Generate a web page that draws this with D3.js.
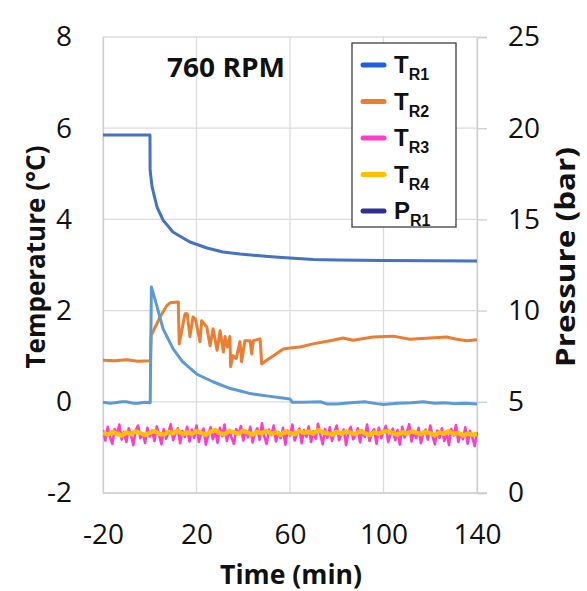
<!DOCTYPE html>
<html><head><meta charset="utf-8">
<script src="https://cdn.jsdelivr.net/npm/d3@7"></script>
<style>html,body{margin:0;padding:0;background:#fff}svg{display:block}</style>
</head><body>
<svg id="c" width="587" height="591"></svg>
<script>
// ---- data ----
const timeTicks = [-20, 20, 60, 100, 140];
const tempTicks = [-2, 0, 2, 4, 6, 8];
const presTicks = [0, 5, 10, 15, 20, 25];
const chartLabel = "760 RPM";
const seriesNames = ["T", "T", "T", "T", "P"];
const seriesSubs = ["R1", "R2", "R3", "R4", "R1"];

// pressure P_R1 (bar) : [time, value]
const pR1 = [[-20,19.63],[0.1,19.63],[0.15,17.7],[1,16.78],[3.1,15.68],[5.7,14.96],[9.9,14.31],[17.2,13.76],[24.5,13.43],[31.3,13.21],[38.6,13.1],[45.9,13.02],[52,12.95],[60,12.88],[70,12.8],[80,12.77],[100,12.75],[120,12.73],[140,12.72]];
// T_R1 (°C)
const tR1 = [[-20,-0.01],[-17,-0.03],[-15,-0.02],[-12,0.0],[-10,0.0],[-7,-0.03],[-5,-0.03],[-2,-0.01],[0,-0.02],[0.2,-0.02],[0.7,2.52],[3,2.11],[5.7,1.6],[10,1.16],[14,0.88],[20,0.61],[27,0.44],[34.5,0.29],[40,0.22],[43,0.18],[50,0.13],[56,0.09],[60,0.06],[61,-0.01],[66,-0.01],[73,0.0],[76,-0.05],[80,-0.05],[86,-0.02],[92,0.0],[97,-0.04],[100,-0.06],[106,-0.03],[112,-0.02],[117,0.0],[122,-0.03],[126,-0.02],[130,-0.04],[135,-0.03],[140,-0.05]];
// T_R2 (°C)
const tR2 = [[-20,0.91],[-15,0.90],[-10,0.92],[-5,0.89],[0,0.90],[0.3,0.91],[0.6,1.45],[4.4,1.86],[7.3,2.11],[8.7,2.17],[12.2,2.19],[12.6,1.27],[15.1,1.93],[16,1.93],[17.2,1.43],[18.5,1.86],[19.5,1.82],[21.5,1.32],[22.2,1.78],[24.4,1.64],[25.8,1.23],[27.1,1.6],[28.8,1.13],[30.1,1.56],[31.5,1.09],[32.2,1.43],[33.2,1.2],[34.3,1.43],[34.6,0.77],[35.6,1.01],[37,0.95],[38.6,1.32],[39.3,0.88],[40.7,1.34],[42.9,1.34],[43.6,1.05],[44.3,1.34],[47.2,1.38],[47.9,0.83],[50,0.91],[52.9,1.01],[57.1,1.16],[60,1.18],[64.3,1.2],[69.8,1.27],[77.1,1.34],[82.7,1.4],[87,1.35],[95.5,1.42],[104.1,1.44],[111.3,1.37],[119.9,1.4],[127,1.42],[131.3,1.37],[135.6,1.34],[140,1.36]];
// T_R3 (°C), one value per minute from -20 to 140
const tR3 = [-0.62,-0.85,-0.55,-0.78,-0.92,-0.60,-0.71,-0.50,-0.83,-0.66,
-0.88,-0.58,-0.74,-0.95,-0.62,-0.52,-0.80,-0.69,-0.90,-0.57,
-0.76,-0.63,-0.86,-0.54,-0.72,-0.93,-0.60,-0.81,-0.67,-0.49,
-0.84,-0.70,-0.58,-0.91,-0.64,-0.77,-0.55,-0.87,-0.61,-0.79,
-0.52,-0.88,-0.68,-0.59,-0.94,-0.73,-0.56,-0.82,-0.65,-0.90,
-0.57,-0.75,-0.50,-0.86,-0.62,-0.79,-0.92,-0.60,-0.71,-0.53,
-0.85,-0.64,-0.78,-0.55,-0.89,-0.68,-0.58,-0.83,-0.47,-0.76,
-0.92,-0.61,-0.73,-0.52,-0.87,-0.66,-0.80,-0.57,-0.94,-0.63,
-0.74,-0.50,-0.85,-0.69,-0.59,-0.91,-0.62,-0.77,-0.54,-0.88,
-0.65,-0.81,-0.48,-0.73,-0.93,-0.60,-0.79,-0.56,-0.86,-0.67,
-0.52,-0.84,-0.71,-0.61,-0.95,-0.66,-0.55,-0.82,-0.74,-0.58,
-0.89,-0.63,-0.77,-0.50,-0.86,-0.69,-0.60,-0.92,-0.57,-0.80,
-0.66,-0.53,-0.88,-0.72,-0.59,-0.84,-0.62,-0.94,-0.55,-0.78,
-0.68,-0.49,-0.87,-0.64,-0.80,-0.57,-0.91,-0.70,-0.61,-0.83,
-0.52,-0.76,-0.93,-0.63,-0.79,-0.58,-0.86,-0.67,-0.95,-0.60,
-0.74,-0.51,-0.88,-0.69,-0.82,-0.56,-0.92,-0.64,-0.78,-0.97,-0.66];
const tR3Start = -20, tR3Step = 1;
// T_R4 (°C), one value every 2 minutes from -20 to 140
const tR4 = [-0.68,-0.72,-0.66,-0.70,-0.74,-0.67,-0.71,-0.65,-0.69,-0.73,
-0.68,-0.64,-0.70,-0.72,-0.66,-0.69,-0.63,-0.71,-0.67,-0.70,
-0.65,-0.68,-0.72,-0.66,-0.62,-0.69,-0.71,-0.64,-0.67,-0.70,
-0.63,-0.68,-0.72,-0.66,-0.69,-0.64,-0.70,-0.67,-0.73,-0.65,
-0.69,-0.71,-0.64,-0.68,-0.66,-0.70,-0.62,-0.67,-0.69,-0.72,
-0.66,-0.70,-0.65,-0.68,-0.71,-0.64,-0.69,-0.73,-0.67,-0.70,
-0.66,-0.64,-0.69,-0.72,-0.67,-0.70,-0.65,-0.68,-0.71,-0.66,
-0.69,-0.73,-0.67,-0.70,-0.64,-0.71,-0.68,-0.74,-0.70,-0.72,-0.71];
const tR4Start = -20, tR4Step = 2;

// ---- layout ----
const svg = d3.select("#c");
const L = 103, R = 477, T = 37, B = 493;
const x = d3.scaleLinear().domain([-20, 140]).range([L, R]);
const yT = d3.scaleLinear().domain([-2, 8]).range([B, T]);
const yP = d3.scaleLinear().domain([0, 25]).range([B, T]);
const tickFont = "'Open Sans', 'Noto Sans', sans-serif";
const fmt = d => String(d);

svg.append("rect").attr("width", 587).attr("height", 591).attr("fill", "#fff");

// grid
const g = svg.append("g");
g.selectAll("line.h").data(tempTicks).join("line")
  .attr("x1", L).attr("x2", R).attr("y1", d => yT(d)).attr("y2", d => yT(d))
  .attr("stroke", "#dcdcdc").attr("stroke-width", 1.3);
g.selectAll("line.v").data(timeTicks).join("line")
  .attr("x1", d => x(d)).attr("x2", d => x(d)).attr("y1", T).attr("y2", B)
  .attr("stroke", "#dcdcdc").attr("stroke-width", 1.3);

// axes
const axL = svg.append("g").attr("transform", `translate(${L},0)`)
  .call(d3.axisLeft(yT).tickValues(tempTicks).tickSize(0).tickPadding(31).tickFormat(fmt));
const axR = svg.append("g").attr("transform", `translate(${R},0)`)
  .call(d3.axisRight(yP).tickValues(presTicks).tickSize(10).tickPadding(21).tickFormat(fmt));
const axB = svg.append("g").attr("transform", `translate(0,${B})`)
  .call(d3.axisBottom(x).tickValues(timeTicks).tickSize(0).tickPadding(31).tickFormat(fmt));
[axL, axR, axB].forEach(a => {
  a.select(".domain").attr("stroke", "#cfcfcf").attr("stroke-width", 1.3);
  a.selectAll(".tick line").attr("stroke", "#cfcfcf").attr("stroke-width", 1.3);
  a.selectAll("text").attr("font-family", tickFont).attr("font-size", 28).attr("fill", "#111");
});
axB.select(".domain").attr("d", `M${L},0H${R + 10}`);

// clip
svg.append("clipPath").attr("id", "clip").append("rect")
  .attr("x", L).attr("y", T - 5).attr("width", R - L + 1).attr("height", B - T + 5);
const plot = svg.append("g").attr("clip-path", "url(#clip)");

const lineT = d3.line().x(d => x(d[0])).y(d => yT(d[1]));
const lineP = d3.line().x(d => x(d[0])).y(d => yP(d[1]));
const r3 = tR3.map((v, i) => [tR3Start + i * tR3Step, v]);
const r4 = tR4.map((v, i) => [tR4Start + i * tR4Step, v]);

plot.append("path").datum(r3).attr("d", lineT).attr("fill", "none")
  .attr("stroke", "#ff3ccb").attr("stroke-width", 2.6).attr("stroke-linejoin", "round");
plot.append("path").datum(r4).attr("d", lineT).attr("fill", "none")
  .attr("stroke", "#ffbf00").attr("stroke-width", 4.5).attr("stroke-linejoin", "round");
plot.append("path").datum(tR2).attr("d", lineT).attr("fill", "none")
  .attr("stroke", "#ed7d31").attr("stroke-width", 3).attr("stroke-linejoin", "round");
plot.append("path").datum(tR1).attr("d", lineT).attr("fill", "none")
  .attr("stroke", "#5b9bd5").attr("stroke-width", 3).attr("stroke-linejoin", "round");
plot.append("path").datum(pR1).attr("d", lineP).attr("fill", "none")
  .attr("stroke", "#4472c4").attr("stroke-width", 3).attr("stroke-linejoin", "round");

// label
svg.append("text").attr("x", 167).attr("y", 77).text(chartLabel)
  .attr("font-family", tickFont).attr("font-weight", 700).attr("font-size", 27)
  .attr("textLength", 118).attr("lengthAdjust", "spacingAndGlyphs").attr("fill", "#111");

// axis titles
svg.append("text").attr("transform", "translate(45,257) rotate(-90)").attr("text-anchor", "middle")
  .text("Temperature (°C)").attr("font-family", tickFont).attr("font-weight", 700).attr("font-size", 26)
  .attr("textLength", 223).attr("lengthAdjust", "spacingAndGlyphs").attr("fill", "#111");
svg.append("text").attr("transform", "translate(575,257) rotate(-90)").attr("text-anchor", "middle")
  .text("Pressure (bar)").attr("font-family", tickFont).attr("font-weight", 700).attr("font-size", 26)
  .attr("textLength", 220).attr("lengthAdjust", "spacingAndGlyphs").attr("fill", "#111");
svg.append("text").attr("x", 291).attr("y", 584).attr("text-anchor", "middle")
  .text("Time (min)").attr("font-family", tickFont).attr("font-weight", 700).attr("font-size", 26)
  .attr("textLength", 142).attr("lengthAdjust", "spacingAndGlyphs").attr("fill", "#111");

// legend
const legendColors = ["#1f5fe6", "#ed7d31", "#ff3ccb", "#ffbf00", "#2e3192"];
const lg = svg.append("g");
lg.append("rect").attr("x", 352).attr("y", 43).attr("width", 104).attr("height", 184)
  .attr("fill", "#fff").attr("stroke", "#404040").attr("stroke-width", 1.3);
const ly = d3.scalePoint().domain(d3.range(5)).range([65, 211]);
const items = lg.selectAll("g.it").data(d3.range(5)).join("g").attr("transform", i => `translate(0,${ly(i)})`);
items.append("line").attr("x1", 363).attr("x2", 384).attr("y1", 0).attr("y2", 0)
  .attr("stroke", i => legendColors[i]).attr("stroke-width", 5).attr("stroke-linecap", "round");
const tx = items.append("text").attr("x", 394).attr("y", 8)
  .attr("font-family", "'Liberation Sans', Arial, sans-serif").attr("font-weight", 700).attr("fill", "#111");
tx.append("tspan").attr("font-size", 24).text(i => seriesNames[i]);
tx.append("tspan").attr("font-size", 16).attr("dy", 7).text(i => seriesSubs[i]);
</script>
</body></html>
